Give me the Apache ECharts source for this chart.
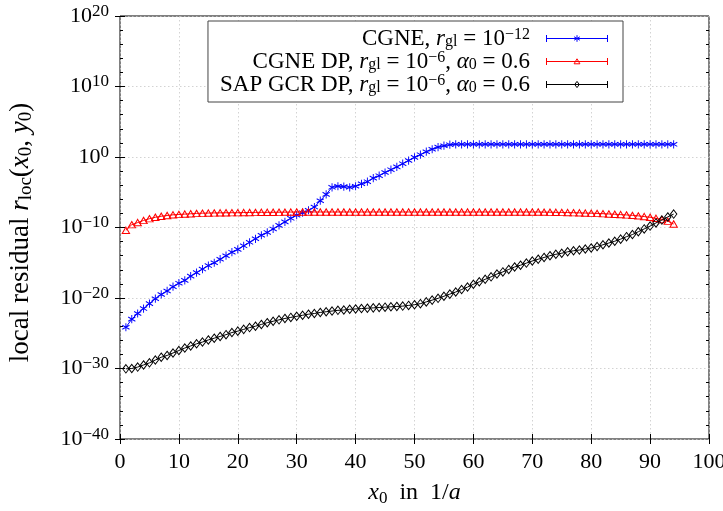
<!DOCTYPE html>
<html><head><meta charset="utf-8">
<script src="https://cdn.jsdelivr.net/npm/echarts@6/dist/echarts.min.js"></script>
<style>html,body{margin:0;padding:0;background:#fff}#chart{width:723px;height:511px}</style>
</head><body><div id="chart"></div>
<script>
// ---- data (x positions and log10 of the residual) ----
const xValues = [1,2,3,4,5,6,7,8,9,10,11,12,13,14,15,16,17,18,19,20,21,22,23,24,25,26,27,28,29,30,31,32,33,34,35,36,37,38,39,40,41,42,43,44,45,46,47,48,49,50,51,52,53,54,55,56,57,58,59,60,61,62,63,64,65,66,67,68,69,70,71,72,73,74,75,76,77,78,79,80,81,82,83,84,85,86,87,88,89,90,91,92,93,94];
const cgneExp = [-24.15,-23.0,-22.2,-21.5,-20.8,-20.1,-19.5,-19.0,-18.4,-17.9,-17.5,-16.9,-16.4,-15.9,-15.4,-15.0,-14.5,-14.0,-13.5,-13.1,-12.6,-12.1,-11.6,-11.1,-10.7,-10.2,-9.7,-9.2,-8.7,-8.25,-7.9,-7.55,-7.1,-6.2,-5.3,-4.3,-4.15,-4.2,-4.3,-4.15,-3.8,-3.5,-3.0,-2.65,-2.2,-1.8,-1.4,-0.95,-0.5,-0.05,0.33,0.75,1.1,1.4,1.6,1.75,1.8,1.8,1.8,1.8,1.8,1.8,1.8,1.8,1.8,1.8,1.8,1.8,1.8,1.8,1.8,1.8,1.8,1.8,1.8,1.8,1.8,1.8,1.8,1.8,1.8,1.8,1.8,1.8,1.8,1.8,1.8,1.8,1.8,1.8,1.8,1.8,1.8,1.8];
const cgneDpExp = [-10.4,-9.6,-9.3,-9.0,-8.75,-8.55,-8.4,-8.3,-8.2,-8.15,-8.1,-8.05,-8.0,-7.97,-7.95,-7.93,-7.92,-7.91,-7.9,-7.9,-7.88,-7.87,-7.86,-7.85,-7.85,-7.84,-7.83,-7.82,-7.81,-7.8,-7.8,-7.8,-7.8,-7.8,-7.8,-7.8,-7.8,-7.8,-7.8,-7.8,-7.8,-7.8,-7.8,-7.8,-7.8,-7.8,-7.8,-7.8,-7.8,-7.8,-7.8,-7.8,-7.8,-7.8,-7.8,-7.8,-7.8,-7.8,-7.8,-7.8,-7.8,-7.8,-7.8,-7.8,-7.8,-7.8,-7.8,-7.8,-7.8,-7.8,-7.8,-7.82,-7.83,-7.85,-7.86,-7.88,-7.9,-7.92,-7.95,-7.97,-8.0,-8.04,-8.08,-8.12,-8.17,-8.22,-8.28,-8.35,-8.45,-8.55,-8.7,-8.88,-9.1,-9.5];
const sapExp = [-30.05,-30.0,-29.8,-29.5,-29.2,-28.8,-28.4,-28.15,-27.8,-27.45,-27.1,-26.8,-26.5,-26.25,-25.95,-25.7,-25.45,-25.2,-24.9,-24.7,-24.45,-24.2,-24.0,-23.75,-23.5,-23.3,-23.1,-22.9,-22.75,-22.6,-22.45,-22.3,-22.2,-22.05,-21.95,-21.85,-21.75,-21.7,-21.6,-21.55,-21.5,-21.45,-21.4,-21.35,-21.3,-21.25,-21.2,-21.15,-21.05,-20.95,-20.8,-20.55,-20.3,-20.05,-19.75,-19.45,-19.15,-18.8,-18.45,-18.05,-17.7,-17.35,-17.0,-16.6,-16.3,-15.95,-15.6,-15.35,-15.05,-14.75,-14.5,-14.25,-14.0,-13.8,-13.65,-13.45,-13.3,-13.2,-13.05,-12.9,-12.7,-12.45,-12.2,-11.95,-11.65,-11.3,-11.0,-10.6,-10.2,-9.8,-9.35,-8.95,-8.5,-8.1];
const seriesNames = ['CGNE r_gl=1e-12', 'CGNE DP r_gl=1e-6 a0=0.6', 'SAP GCR DP r_gl=1e-6 a0=0.6'];
const seriesColors = ['#0000ff', '#ff0000', '#000000'];
const xMin = 0, xMax = 100, xStep = 10;
const yMajorExps = [-40, -30, -20, -10, 0, 10, 20];
const yMinorExps = [-38,-36,-34,-32,-28,-26,-24,-22,-18,-16,-14,-12,-8,-6,-4,-2,2,4,6,8,12,14,16,18];
const yMinExp = -40, yMaxExp = 20;

// ---- styling ----
const FONT = '"Liberation Serif", "DejaVu Serif", serif';
const mk = (t) => ({fontFamily: FONT, color: '#000', ...t});
const makeRich = (fs, sfs, lh) => ({
  n: mk({fontSize: fs, lineHeight: lh}),
  i: mk({fontSize: fs, fontStyle: 'italic', lineHeight: lh}),
  sub: mk({fontSize: sfs, lineHeight: sfs + 1, verticalAlign: 'bottom'}),
  sup: mk({fontSize: sfs, lineHeight: sfs + 2, verticalAlign: 'top'})
});
const richLegend = makeRich(23, 16, 23);
const richTick = makeRich(22, 17, 26);
const richTitle = makeRich(24, 17, 28);
const richYTitle = makeRich(27, 19, 31);

const legendRichText = {
  [seriesNames[0]]: '{n|CGNE, }{i|r}{sub|gl}{n| = 10}{sup|\u221212}{n|  }',
  [seriesNames[1]]: '{n|CGNE DP, }{i|r}{sub|gl}{n| = 10}{sup|\u22126}{n|, }{i|\u03b1}{sub|0}{n| = 0.6  }',
  [seriesNames[2]]: '{n|SAP GCR DP, }{i|r}{sub|gl}{n| = 10}{sup|\u22126}{n|, }{i|\u03b1}{sub|0}{n| = 0.6  }'
};
const symbols = [
  'path://M0,-10L0,10M-8.66,-5L8.66,5M-8.66,5L8.66,-5',
  'path://M0,-10L8.66,5L-8.66,5Z',
  'path://M0,-10L6,0L0,10L-6,0Z'
];
const symbolSizes = [[7.2, 8.2], [7.4, 6.4], [6.4, 8.4]];
const legendIcons = [
  'path://M0,0L0,7M0,3.5L61,3.5M61,0L61,7M30.5,0.2L30.5,6.8M27.6,1.8L33.4,5.2M27.6,5.2L33.4,1.8',
  'path://M0,0L0,7M0,3.5L61,3.5M61,0L61,7M30.5,0.8L33.4,5.8L27.6,5.8Z',
  'path://M0,0L0,7M0,3.5L61,3.5M61,0L61,7M30.5,0.4L32.8,3.5L30.5,6.6L28.2,3.5Z'
];

const chart = echarts.init(document.getElementById('chart'), null, {renderer: 'canvas'});

const series = [cgneExp, cgneDpExp, sapExp].map((exps, k) => ({
  name: seriesNames[k],
  type: 'line',
  xAxisIndex: 0, yAxisIndex: 0,
  data: xValues.map((x, j) => [x, Math.pow(10, exps[j])]),
  symbol: symbols[k],
  symbolSize: symbolSizes[k],
  showAllSymbol: true,
  lineStyle: {color: seriesColors[k], width: 1},
  itemStyle: {color: 'none', borderColor: seriesColors[k], borderWidth: 1},
  emphasis: {disabled: true},
  animation: false,
  z: 3 + k
}));

const supFmt = (v) => {
  const e = Math.round(Math.log10(v));
  return '{n|10}{sup|' + (e < 0 ? '\u2212' + (-e) : e) + '}';
};

const majorVals = yMajorExps.map(e => Math.pow(10, e));
const minorVals = yMinorExps.map(e => Math.pow(10, e));
const majorTick = {show: true, inside: true, length: 5, lineStyle: {color: '#000', width: 1}};
const gridLine = {show: true, lineStyle: {color: '#c8c8c8', type: [1.5, 2.5], width: 0.8}};
const yLog = {type: 'log', logBase: 10, min: Math.pow(10, yMinExp) * 0.9999, max: Math.pow(10, yMaxExp) * 1.0001};

chart.setOption({
  backgroundColor: '#fff',
  animation: false,
  grid: {left: 120, right: 14, top: 16, bottom: 72, show: true, borderColor: '#000', borderWidth: 1, outerBoundsMode: 'none'},
  legend: {
    orient: 'vertical',
    align: 'right',
    right: 100, top: 21,
    padding: [6, 13, 6, 12],
    itemGap: 0,
    itemWidth: 61, itemHeight: 7,
    borderColor: '#444', borderWidth: 1,
    backgroundColor: '#fff',
    selectedMode: false,
    textStyle: {fontFamily: FONT, fontSize: 23, color: '#000', rich: richLegend},
    formatter: (name) => legendRichText[name],
    data: seriesNames.map((nm, k) => ({
      name: nm,
      icon: legendIcons[k],
      itemStyle: {color: 'none', borderColor: seriesColors[k], borderWidth: 1}
    }))
  },
  xAxis: [{
    type: 'value', min: xMin, max: xMax, interval: xStep, position: 'bottom',
    axisLine: {show: false},
    axisTick: majorTick,
    splitLine: gridLine,
    axisLabel: {margin: 12, fontFamily: FONT, fontSize: 22, color: '#000'},
    name: '{i|x}{sub|0}{n|  in  1/}{i|a}',
    nameLocation: 'middle', nameGap: 40, nameMoveOverlap: false,
    nameTextStyle: {rich: richTitle}
  }, {
    type: 'value', min: xMin, max: xMax, interval: xStep, position: 'top',
    axisLine: {show: false}, axisTick: majorTick, splitLine: {show: false}, axisLabel: {show: false}
  }],
  yAxis: [{
    ...yLog, position: 'left',
    axisLine: {show: false},
    axisTick: {...majorTick, customValues: majorVals},
    splitLine: gridLine,
    axisLabel: {margin: 11, formatter: supFmt, rich: richTick, customValues: majorVals, showMinLabel: true, showMaxLabel: true},
    name: '{n|local residual }{i|r}{sub|loc}{n|(}{i|x}{sub|0}{n|, }{i|y}{sub|0}{n|)}',
    nameLocation: 'middle', nameGap: 84, nameRotate: 90, nameMoveOverlap: false,
    nameTextStyle: {rich: richYTitle, padding: [0, 10, 0, 0]}
  }, {
    ...yLog, position: 'right',
    axisLine: {show: false}, axisTick: {...majorTick, customValues: majorVals},
    splitLine: {show: false}, axisLabel: {show: false}
  }, {
    ...yLog, position: 'right',
    axisLine: {show: false}, axisTick: {...majorTick, length: 3, customValues: minorVals},
    splitLine: {show: false}, axisLabel: {show: false}
  }, {
    ...yLog, position: 'left',
    axisLine: {show: false}, axisTick: {...majorTick, length: 3, customValues: minorVals},
    splitLine: {show: false}, axisLabel: {show: false}
  }],
  series: series
});
</script></body></html>
